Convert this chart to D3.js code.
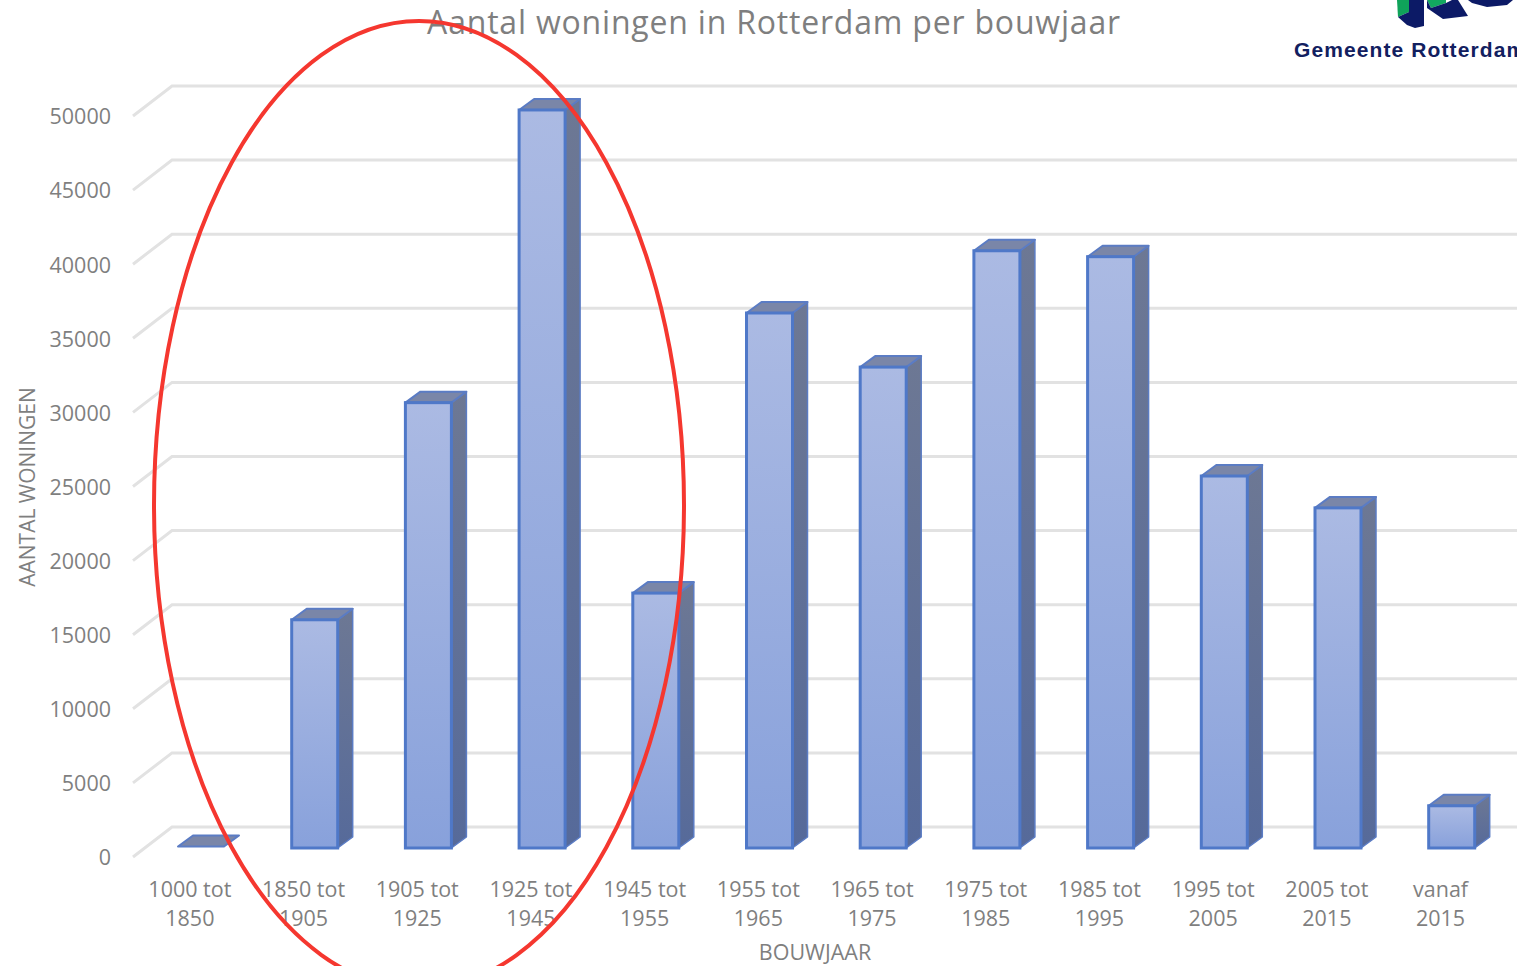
<!DOCTYPE html>
<html>
<head>
<meta charset="utf-8">
<script src="https://cdn.jsdelivr.net/npm/d3@7"></script>
<style>
	html, body { margin: 0; padding: 0; background: #fff; overflow: hidden; }
	text { font-family: "Open Sans", sans-serif; fill: #7f7f7f; }
</style>
</head>
<body onload="onLoad()">
<div id="chart"></div>
<script>
var categories = [
	["1000 tot", "1850"],
	["1850 tot", "1905"],
	["1905 tot", "1925"],
	["1925 tot", "1945"],
	["1945 tot", "1955"],
	["1955 tot", "1965"],
	["1965 tot", "1975"],
	["1975 tot", "1985"],
	["1985 tot", "1995"],
	["1995 tot", "2005"],
	["2005 tot", "2015"],
	["vanaf", "2015"]
];
var woningen = [100, 15400, 30050, 49800, 17200, 36100, 32450, 40300, 39900, 25100, 22950, 2850];
var yTicks = [0, 5000, 10000, 15000, 20000, 25000, 30000, 35000, 40000, 45000, 50000];

var svgContainer,
	width = 1517,
	height = 966,
	baseY = 848,
	depthX = 15,
	depthY = 11,
	wallX = 39,
	wallY = 30,
	barWidth = 46;

function onLoad() {
	svgContainer = d3.select("#chart")
	.append("svg")
	.attr("width", width)
	.attr("height", height)
	.style("display", "block");

	addGradients();

	var yScale = d3.scaleLinear().domain([0, 50000]).range([baseY + 9, baseY + 9 - 741]);
	var xScale = d3.scaleBand()
	.domain(d3.range(categories.length))
	.range([133, 133 + 113.7 * categories.length])
	.paddingInner(0);

	drawGrid(yScale);
	drawBars(xScale, yScale);
	drawAxes(xScale, yScale);
	drawTitles();
	drawLogo();
	drawEllipse();
}

function addGradients() {
	var defs = svgContainer.append("defs");
	addGradient(defs, "frontFill", "#abbae3", "#88a1db");
	addGradient(defs, "sideFill", "#6d7894", "#566a9a");
}

function addGradient(defs, id, top, bottom) {
	var g = defs.append("linearGradient")
	.attr("id", id)
	.attr("x1", 0).attr("y1", 0)
	.attr("x2", 0).attr("y2", 1);
	g.append("stop").attr("offset", "0%").attr("stop-color", top);
	g.append("stop").attr("offset", "100%").attr("stop-color", bottom);
}

function drawGrid(yScale) {
	var grid = svgContainer.append("g").attr("class", "grid");

	yTicks.forEach(t => {
		var y = yScale(t);
		grid.append("path")
		.attr("d", "M133," + y + "L" + (133 + wallX) + "," + (y - wallY) + "L" + width + "," + (y - wallY))
		.attr("fill", "none")
		.attr("stroke", "#e2e2e2")
		.attr("stroke-width", 3);
	});
}

function drawBars(xScale, yScale) {
	var barY = i => baseY - (yScale(0) - yScale(woningen[i]));
	var barX = i => xScale(i) + 45;
	var isTall = i => woningen[i] > 1000;

	var bars = svgContainer.append("g").attr("class", "bars")
	.selectAll("g")
	.data(d3.range(woningen.length))
	.enter()
	.append("g");

	// side face
	bars.filter(isTall).append("path")
	.attr("d", i => {
		var x = barX(i) + barWidth, y = barY(i);
		return "M" + x + "," + y + "l" + depthX + "," + (-depthY) + "V" + (baseY - depthY) + "l" + (-depthX) + "," + depthY + "Z";
	})
	.attr("fill", "url(#sideFill)")
	.attr("stroke", "#5b7cc4")
	.attr("stroke-width", 1.5)
	.attr("stroke-linejoin", "round");

	// top face
	bars.append("path")
	.attr("d", i => {
		var x = barX(i), y = barY(i);
		return "M" + x + "," + y + "l" + depthX + "," + (-depthY) + "h" + barWidth + "l" + (-depthX) + "," + depthY + "Z";
	})
	.attr("fill", "#7a86a8")
	.attr("stroke", "#5b7cc4")
	.attr("stroke-width", 2)
	.attr("stroke-linejoin", "round");

	// front face
	bars.filter(isTall).append("rect")
	.attr("x", barX)
	.attr("y", barY)
	.attr("width", barWidth)
	.attr("height", i => baseY - barY(i))
	.attr("fill", "url(#frontFill)")
	.attr("stroke", "#4f78c8")
	.attr("stroke-width", 3);
}

function drawAxes(xScale, yScale) {
	var yAxis = d3.axisLeft(yScale).tickValues(yTicks).tickSize(0).tickPadding(0).tickFormat(d3.format("d"));
	var yGroup = svgContainer.append("g")
	.attr("class", "axis")
	.attr("transform", "translate(111,1)")
	.call(yAxis);
	yGroup.select(".domain").remove();
	yGroup.selectAll("text").style("font-size", "21.5px").style("fill", "#7f7f7f");

	var xAxis = d3.axisBottom(xScale).tickSize(0).tickFormat("");
	var xGroup = svgContainer.append("g")
	.attr("class", "axis")
	.attr("transform", "translate(0,872)")
	.call(xAxis);
	xGroup.select(".domain").remove();

	xGroup.selectAll(".tick text")
	.style("font-size", "21.5px")
	.style("fill", "#7f7f7f")
	.attr("y", 0)
	.attr("dy", null)
	.each(function(d) {
		var label = d3.select(this);
		categories[d].forEach((line, i) => {
			label.append("tspan")
			.attr("x", 0)
			.attr("y", 25 + i * 29)
			.text(line);
		});
	});
}

function drawTitles() {
	svgContainer.append("text")
	.attr("x", 774)
	.attr("y", 34)
	.attr("text-anchor", "middle")
	.style("font-size", "32px")
	.style("letter-spacing", "0.8px")
	.text("Aantal woningen in Rotterdam per bouwjaar");

	svgContainer.append("text")
	.attr("transform", "translate(35,487) rotate(-90)")
	.attr("text-anchor", "middle")
	.style("font-size", "21px")
	.text("AANTAL WONINGEN");

	svgContainer.append("text")
	.attr("x", 815)
	.attr("y", 960)
	.attr("text-anchor", "middle")
	.style("font-size", "21.5px")
	.text("BOUWJAAR");
}

function drawLogo() {
	var logo = svgContainer.append("g").attr("class", "logo");

	logo.append("path").attr("d", "M1397,0H1409V12L1398,17Z").attr("fill", "#0fa35a");
	logo.append("path").attr("d", "M1398,17L1409,12V0H1424V26L1415,28L1407,25Z").attr("fill", "#0c1a66");
	logo.append("path").attr("d", "M1427,0H1446V3L1431,8Z").attr("fill", "#12a860");
	logo.append("path").attr("d", "M1427,0L1431,8L1446,3L1452,0H1458L1468,16L1443,19L1427,8Z").attr("fill", "#0c1a66");
	logo.append("path").attr("d", "M1468,0H1513L1507,5L1487,7L1472,3Z").attr("fill", "#0c1a66");

	logo.append("text")
	.attr("x", 1294)
	.attr("y", 57)
	.style("font-family", "'Liberation Sans', sans-serif")
	.style("font-weight", "bold")
	.style("font-size", "21px")
	.style("letter-spacing", "1.1px")
	.style("fill", "#12205f")
	.text("Gemeente Rotterdam");
}

function drawEllipse() {
	svgContainer.append("ellipse")
	.attr("cx", 419)
	.attr("cy", 505)
	.attr("rx", 265)
	.attr("ry", 484)
	.attr("fill", "none")
	.attr("stroke", "#f5372f")
	.attr("stroke-width", 4);
}
</script>
</body>
</html>
